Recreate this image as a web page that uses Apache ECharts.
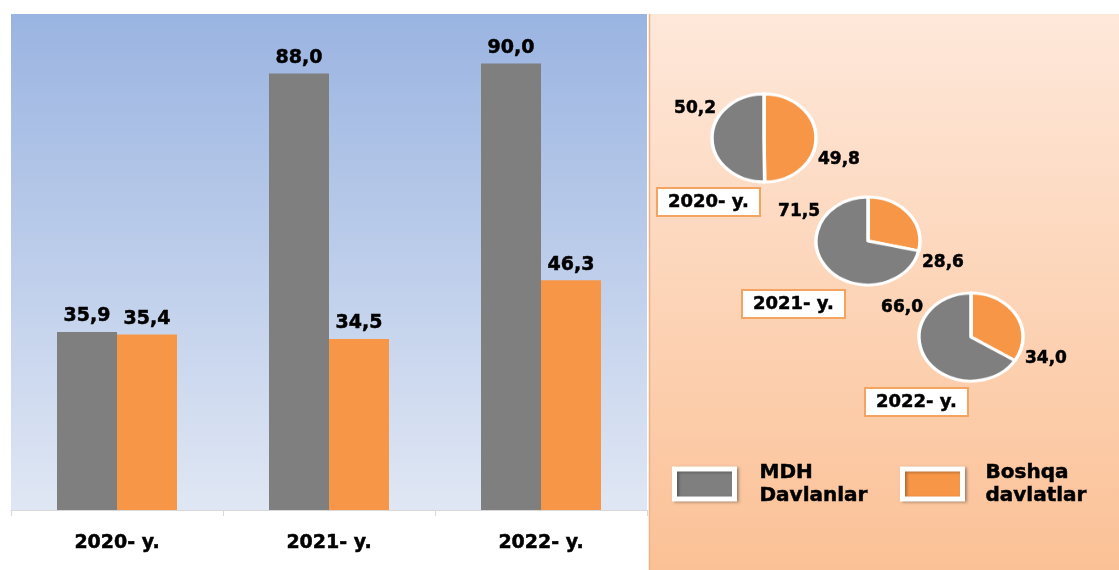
<!DOCTYPE html>
<html>
<head>
<meta charset="utf-8">
<script src="https://cdn.jsdelivr.net/npm/echarts@6/dist/echarts.min.js"></script>
<style>
html,body{margin:0;padding:0;background:#fff;overflow:hidden;}
#wrap{position:relative;width:1119px;height:570px;overflow:hidden;}
#chart{position:absolute;left:0;top:0;width:1119px;height:570px;}
#pies{position:absolute;left:0;top:0;width:1119px;height:674px;transform-origin:0 0;pointer-events:none;}
</style>
</head>
<body>
<div id="wrap">
<div id="chart"></div>
<div id="pies"></div>
</div>
<script>
// ---- data ----
const years = ['2020- y.', '2021- y.', '2022- y.'];
const seriesNames = ['MDH Davlanlar', 'Boshqa davlatlar'];
const mdhValues = [35.9, 88.0, 90.0];
const otherValues = [35.4, 34.5, 46.3];
const pieMdh = [50.2, 71.5, 66.0];
const pieOther = [49.8, 28.6, 34.0];

// ---- layout / style ----
const FONT = "'DejaVu Sans', sans-serif";
const GRAY = '#7f7f7f';
const ORANGE = '#f79646';
const pieCenters = [[764, 138], [868, 241], [971, 337]];
const pieBoxes = [[657, 188], [742, 290], [865, 388]];
const RX = 52, RY = 44;
const SY = RY / RX;
document.getElementById('pies').style.transform = 'scale(1,' + SY + ')';

const fmt = v => v.toFixed(1).replace('.', ',');
const boldText = (size) => ({ fontFamily: FONT, fontWeight: 'bold', fontSize: size, color: '#000',
  textBorderColor: '#000', textBorderWidth: 0.5 });

const chart = echarts.init(document.getElementById('chart'));
const pieChart = echarts.init(document.getElementById('pies'));

function pieData(i, visible) {
  return [
    { name: seriesNames[1], value: pieOther[i], itemStyle: { color: visible ? ORANGE : 'rgba(0,0,0,0)' } },
    { name: seriesNames[0], value: pieMdh[i], itemStyle: { color: visible ? GRAY : 'rgba(0,0,0,0)' } }
  ];
}

// label-carrying (invisible) pies in the main chart
const labelPies = years.map((y, i) => ({
  type: 'pie',
  center: pieCenters[i],
  radius: [0, RY],
  startAngle: 90,
  clockwise: true,
  silent: true,
  itemStyle: { borderWidth: 0 },
  label: Object.assign({ show: true, position: 'outside', formatter: p => fmt(p.value) }, boldText(17)),
  labelLine: { show: false },
  labelLayout: function (p) {
    const c = pieCenters[i];
    if (p.dataIndex === 0) {
      return { x: c[0] + 54, y: c[1] + 22, align: 'left', verticalAlign: 'middle' };
    }
    return { x: c[0] - 48, y: c[1] - 29, align: 'right', verticalAlign: 'middle' };
  },
  data: pieData(i, false)
}));

// visible pies (drawn in a vertically squashed layer to get the tilted look)
const shapePies = years.map((y, i) => ({
  type: 'pie',
  center: [pieCenters[i][0], pieCenters[i][1] / SY],
  radius: [0, RX],
  startAngle: 90,
  clockwise: true,
  silent: true,
  itemStyle: { borderColor: '#fff', borderWidth: 3.5 },
  label: { show: false },
  labelLine: { show: false },
  data: pieData(i, true)
}));

const titles = years.map((y, i) => ({
  text: y,
  left: pieBoxes[i][0],
  top: pieBoxes[i][1],
  backgroundColor: '#fff',
  borderColor: '#f4a460',
  borderWidth: 2,
  padding: [5, 11, 5, 11],
  textStyle: boldText(18)
}));

const legendCommon = {
  orient: 'vertical',
  top: 456,
  itemWidth: 60,
  itemHeight: 30,
  icon: 'rect',
  selectedMode: false,
  formatter: n => n.replace(' ', '\n')
};
const legendItemStyle = c => ({ color: c, borderColor: '#fff', borderWidth: 5,
  shadowBlur: 3, shadowColor: 'rgba(0,0,0,0.3)', shadowOffsetX: 2, shadowOffsetY: 1 });

chart.setOption({
  animation: false,
  title: titles,
  graphic: [
    {
      type: 'rect', z: -10,
      shape: { x: 649, y: 14, width: 470, height: 556 },
      style: {
        fill: new echarts.graphic.LinearGradient(0, 0, 0, 1, [
          { offset: 0, color: '#fee8da' },
          { offset: 1, color: '#fbc196' }
        ])
      }
    },
    {
      type: 'line', z: -9,
      shape: { x1: 649.5, y1: 14, x2: 649.5, y2: 570 },
      style: { stroke: '#f4b183', lineWidth: 1.5 }
    }
  ],
  legend: [
    Object.assign({}, legendCommon, {
      left: 667, data: [seriesNames[0]],
      itemStyle: legendItemStyle(GRAY),
      textStyle: Object.assign(boldText(20), { lineHeight: 23, padding: [0, 0, 0, 20] })
    }),
    Object.assign({}, legendCommon, {
      left: 895, data: [seriesNames[1]],
      itemStyle: legendItemStyle(ORANGE),
      textStyle: Object.assign(boldText(20), { lineHeight: 23, padding: [0, 0, 0, 18] })
    })
  ],
  grid: {
    left: 11, right: 472, top: 14, bottom: 60,
    show: true,
    borderWidth: 0,
    backgroundColor: new echarts.graphic.LinearGradient(0, 0, 0, 1, [
      { offset: 0, color: '#9ab4e1' },
      { offset: 1, color: '#e0e7f4' }
    ])
  },
  xAxis: {
    type: 'category',
    data: years,
    axisLine: { lineStyle: { color: '#d9d9d9', width: 1 } },
    axisTick: { show: true, length: 6, lineStyle: { color: '#d9d9d9' } },
    axisLabel: Object.assign({ margin: 24 }, boldText(19))
  },
  yAxis: {
    type: 'value', min: 0, max: 100, interval: 20,
    show: false,
    splitLine: { show: false }
  },
  series: [
    {
      name: seriesNames[0], type: 'bar', data: mdhValues, barWidth: 60, barGap: '0%',
      itemStyle: { color: GRAY },
      label: Object.assign({ show: true, position: 'top', distance: 6, formatter: p => fmt(p.value) }, boldText(19))
    },
    {
      name: seriesNames[1], type: 'bar', data: otherValues, barWidth: 60, barGap: '0%',
      itemStyle: { color: ORANGE },
      label: Object.assign({ show: true, position: 'top', distance: 6, formatter: p => fmt(p.value) }, boldText(19))
    }
  ].concat(labelPies)
});

pieChart.setOption({
  animation: false,
  series: shapePies
});
</script>
</body>
</html>
